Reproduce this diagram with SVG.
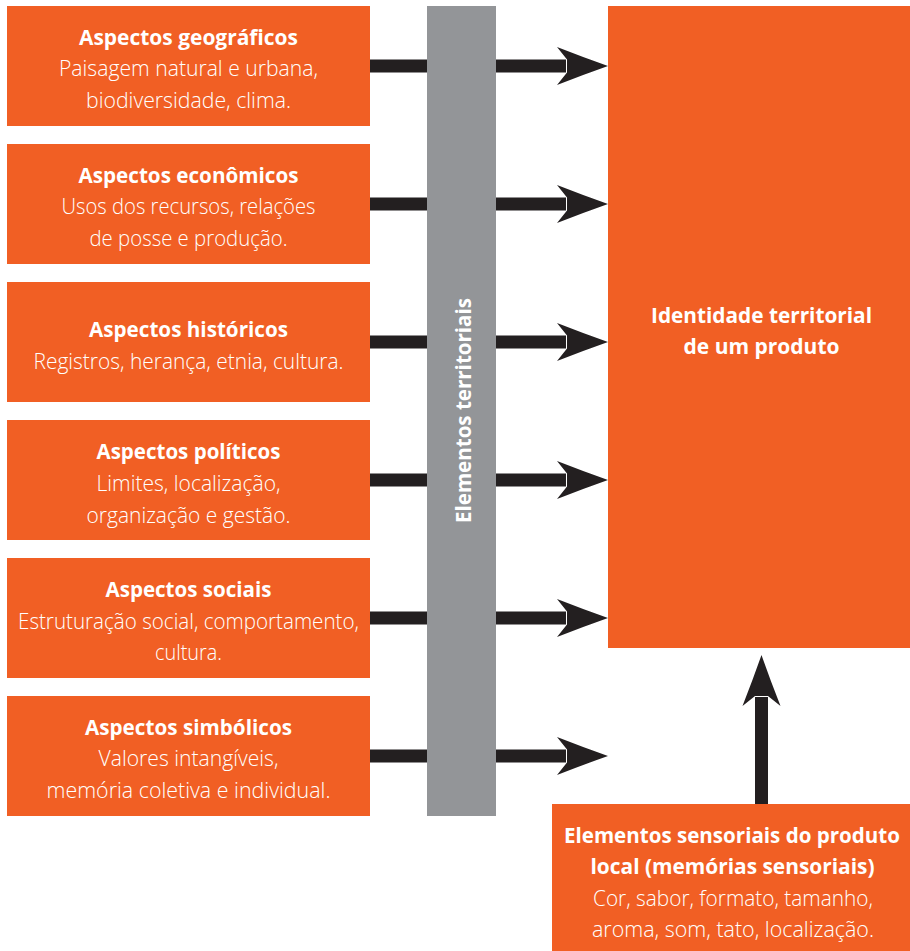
<svg xmlns="http://www.w3.org/2000/svg" width="910" height="951" viewBox="0 0 910 951">
  <style>
    .box { fill: #f15f24; }
    .bar { fill: #939598; }
    .t { font-family: "Open Sans", "Noto Sans", "Liberation Sans", sans-serif; font-size: 22px; fill: #ffffff; text-anchor: middle; }
    .b { font-weight: 700; }
    .l { font-weight: 300; }
    .link { stroke: #231f20; stroke-width: 13; fill: none; marker-end: url(#head); }
  </style>
  <defs>
    <marker id="head" markerUnits="userSpaceOnUse" viewBox="0 -20 52 40" refX="9" refY="0" markerWidth="52" markerHeight="40" orient="auto">
      <path d="M0,-19 Q26,-8.8 51,0 Q26,8.8 0,19 L10,6.5 L10,-6.5 Z" fill="#231f20"/>
    </marker>
  </defs>

  <rect width="910" height="951" fill="#ffffff"/>

  <!-- connectors -->
  <g id="connectors">
    <line class="link" x1="370" y1="66" x2="566" y2="66"/>
    <line class="link" x1="370" y1="204" x2="566" y2="204"/>
    <line class="link" x1="370" y1="342" x2="566" y2="342"/>
    <line class="link" x1="370" y1="480" x2="566" y2="480"/>
    <line class="link" x1="370" y1="618" x2="566" y2="618"/>
    <line class="link" x1="370" y1="756" x2="566" y2="756"/>
    <line class="link" x1="761.5" y1="805" x2="761.5" y2="697"/>
  </g>

  <!-- aspect boxes -->
  <g id="geograficos">
    <rect class="box" x="7" y="6" width="363" height="120"/>
    <text class="t b" x="188.5" y="44.5" textLength="219" lengthAdjust="spacingAndGlyphs">Aspectos geográficos</text>
    <text class="t l" x="188.5" y="76" textLength="259" lengthAdjust="spacingAndGlyphs">Paisagem natural e urbana,</text>
    <text class="t l" x="188.5" y="107.5" textLength="205" lengthAdjust="spacingAndGlyphs">biodiversidade, clima.</text>
  </g>
  <g id="economicos">
    <rect class="box" x="7" y="144" width="363" height="120"/>
    <text class="t b" x="188.5" y="182.5" textLength="220" lengthAdjust="spacingAndGlyphs">Aspectos econômicos</text>
    <text class="t l" x="188.5" y="214" textLength="254" lengthAdjust="spacingAndGlyphs">Usos dos recursos, relações</text>
    <text class="t l" x="188.5" y="245.5" textLength="198" lengthAdjust="spacingAndGlyphs">de posse e produção.</text>
  </g>
  <g id="historicos">
    <rect class="box" x="7" y="282" width="363" height="120"/>
    <text class="t b" x="188.5" y="336.5" textLength="199" lengthAdjust="spacingAndGlyphs">Aspectos históricos</text>
    <text class="t l" x="188.5" y="369" textLength="310" lengthAdjust="spacingAndGlyphs">Registros, herança, etnia, cultura.</text>
  </g>
  <g id="politicos">
    <rect class="box" x="7" y="420" width="363" height="120"/>
    <text class="t b" x="188.5" y="458.5" textLength="184" lengthAdjust="spacingAndGlyphs">Aspectos políticos</text>
    <text class="t l" x="188.5" y="490.5" textLength="184" lengthAdjust="spacingAndGlyphs">Limites, localização,</text>
    <text class="t l" x="188.5" y="522.5" textLength="204" lengthAdjust="spacingAndGlyphs">organização e gestão.</text>
  </g>
  <g id="sociais">
    <rect class="box" x="7" y="558" width="363" height="120"/>
    <text class="t b" x="188.5" y="596.5" textLength="166" lengthAdjust="spacingAndGlyphs">Aspectos sociais</text>
    <text class="t l" x="188.5" y="628.5" textLength="341" lengthAdjust="spacingAndGlyphs">Estruturação social, comportamento,</text>
    <text class="t l" x="188.5" y="660" textLength="67" lengthAdjust="spacingAndGlyphs">cultura.</text>
  </g>
  <g id="simbolicos">
    <rect class="box" x="7" y="696" width="363" height="120"/>
    <text class="t b" x="188.5" y="734.5" textLength="207" lengthAdjust="spacingAndGlyphs">Aspectos simbólicos</text>
    <text class="t l" x="188.5" y="766" textLength="180" lengthAdjust="spacingAndGlyphs">Valores intangíveis,</text>
    <text class="t l" x="188.5" y="798" textLength="284" lengthAdjust="spacingAndGlyphs">memória coletiva e individual.</text>
  </g>

  <!-- vertical band -->
  <g id="elementos-territoriais">
    <rect class="bar" x="427" y="6" width="69" height="810"/>
    <text class="t b" transform="translate(471,410.5) rotate(-90)" x="0" y="0" textLength="225" lengthAdjust="spacingAndGlyphs">Elementos territoriais</text>
  </g>

  <!-- target -->
  <g id="identidade">
    <rect class="box" x="608" y="6" width="302" height="642"/>
    <text class="t b" x="761.5" y="322.5" textLength="221" lengthAdjust="spacingAndGlyphs">Identidade territorial</text>
    <text class="t b" x="761.5" y="353.5" textLength="156" lengthAdjust="spacingAndGlyphs">de um produto</text>
  </g>

  <!-- sensory input -->
  <g id="sensoriais">
    <rect class="box" x="552" y="804" width="358" height="147"/>
    <text class="t b" x="732" y="842.5" textLength="336" lengthAdjust="spacingAndGlyphs">Elementos sensoriais do produto</text>
    <text class="t b" x="732.5" y="874" textLength="284" lengthAdjust="spacingAndGlyphs">local (memórias sensoriais)</text>
    <text class="t l" x="733" y="905.5" textLength="280" lengthAdjust="spacingAndGlyphs">Cor, sabor, formato, tamanho,</text>
    <text class="t l" x="733" y="937" textLength="282" lengthAdjust="spacingAndGlyphs">aroma, som, tato, localização.</text>
  </g>
</svg>
